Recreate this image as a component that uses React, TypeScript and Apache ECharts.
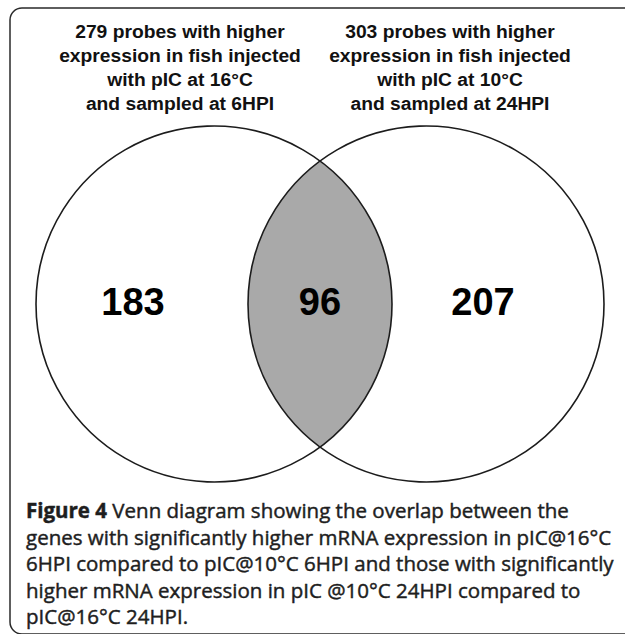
import React, { useEffect, useRef } from "react";
import * as echarts from "echarts";

// ---- data ----
const setTitlesA = ["279 probes with higher", "expression in fish injected", "with pIC at 16°C", "and sampled at 6HPI"];
const setTitlesB = ["303 probes with higher", "expression in fish injected", "with pIC at 10°C", "and sampled at 24HPI"];
const regionNames = ["pIC@16°C 6HPI only", "both", "pIC@10°C 24HPI only"];
const regionCounts = [183, 96, 207];
const captionLead = "Figure 4";
const captionLines = [
  " Venn diagram showing the overlap between the",
  "genes with significantly higher mRNA expression in pIC@16°C",
  "6HPI compared to pIC@10°C 6HPI and those with significantly",
  "higher mRNA expression in pIC @10°C 24HPI compared to",
  "pIC@16°C 24HPI.",
];

// ---- layout (pixels) ----
const W = 625;
const H = 634;
const circleCenters = [
  [214, 304],
  [426, 304],
];
const circleRadius = 178;
const countAnchors = [
  [133, 302],
  [320, 302],
  [483, 302],
];
const titleCentersX = [180, 450];
const titleLineY = [32, 56, 80, 104];
const captionX = 26;
const captionY = [510, 536.5, 563, 589.5, 616];

const LABEL_FONT = "'Liberation Sans', Arial, Helvetica, sans-serif";
const CAPTION_FONT = "'Open Sans', 'Noto Sans', sans-serif";

export default function App() {
  const ref = useRef<HTMLDivElement>(null);

  useEffect(() => {
    if (!ref.current) return;
    const chart = echarts.init(ref.current, null, { renderer: "svg" });

    const renderItem = (params: any, api: any) => {
      const c1 = api.coord(circleCenters[0]);
      const c2 = api.coord(circleCenters[1]);
      const r = api.size([circleRadius, 0])[0];
      const dx = c2[0] - c1[0];
      const dy = c2[1] - c1[1];
      const d = Math.sqrt(dx * dx + dy * dy);
      const a = d / 2;
      const h = Math.sqrt(Math.max(r * r - a * a, 0));
      const mx = (c1[0] + c2[0]) / 2;
      const my = (c1[1] + c2[1]) / 2;
      const p1 = [mx, my - h];
      const p2 = [mx, my + h];
      const pathData =
        `M ${p1[0]} ${p1[1]} A ${r} ${r} 0 0 1 ${p2[0]} ${p2[1]} ` +
        `A ${r} ${r} 0 0 1 ${p1[0]} ${p1[1]} Z`;

      const children: any[] = [
        {
          type: "path",
          shape: { pathData },
          style: { fill: "#a9a9a9", stroke: "none" },
        },
        {
          type: "circle",
          shape: { cx: c1[0], cy: c1[1], r },
          style: { fill: "none", stroke: "#1c1c1c", lineWidth: 1.6 },
        },
        {
          type: "circle",
          shape: { cx: c2[0], cy: c2[1], r },
          style: { fill: "none", stroke: "#1c1c1c", lineWidth: 1.6 },
        },
      ];
      regionCounts.forEach((v, i) => {
        const p = api.coord(countAnchors[i]);
        children.push({
          type: "text",
          x: p[0],
          y: p[1],
          style: {
            text: String(v),
            fontSize: 38,
            fontWeight: "bold",
            fontFamily: LABEL_FONT,
            fill: "#000",
            align: "center",
            verticalAlign: "middle",
          },
        });
      });
      return { type: "group", children };
    };

    const graphics: any[] = [
      {
        type: "rect",
        z: -10,
        shape: { x: 10, y: 8, width: 700, height: 626, r: 12 },
        style: { fill: "#ffffff", stroke: "#2a2a2a", lineWidth: 1.5 },
      },
    ];
    [setTitlesA, setTitlesB].forEach((lines, k) => {
      lines.forEach((t, i) => {
        graphics.push({
          type: "text",
          x: titleCentersX[k],
          y: titleLineY[i],
          scaleX: 1.07,
          style: {
            text: t,
            fontSize: 18,
            fontWeight: "bold",
            fontFamily: LABEL_FONT,
            fill: "#111",
            align: "center",
            verticalAlign: "middle",
          },
        });
      });
    });
    captionLines.forEach((t, i) => {
      graphics.push({
        type: "text",
        x: captionX,
        y: captionY[i],
        style: {
          text: i === 0 ? `{b|${captionLead}}${t}` : t,
          fontSize: 20.5,
          fontFamily: CAPTION_FONT,
          fill: "#1e1e1e",
          stroke: "#1e1e1e",
          lineWidth: 0.45,
          align: "left",
          verticalAlign: "middle",
          rich: {
            b: {
              fontSize: 20.5,
              fontWeight: "bold",
              fontFamily: CAPTION_FONT,
              fill: "#1e1e1e",
              stroke: "#1e1e1e",
              lineWidth: 0.45,
            },
          },
        },
      });
    });

    chart.setOption({
      animation: false,
      backgroundColor: "#ffffff",
      grid: { left: 0, right: 0, top: 0, bottom: 0 },
      xAxis: { type: "value", min: 0, max: W, show: false },
      yAxis: { type: "value", min: 0, max: H, inverse: true, show: false },
      graphic: graphics,
      series: [
        {
          type: "custom",
          name: regionNames.join(" / "),
          renderItem,
          data: [[0, 0]],
          silent: true,
          clip: false,
        },
      ],
    });

    return () => chart.dispose();
  }, []);

  return (
    <div
      ref={ref}
      style={{ position: "fixed", left: 0, top: 0, width: W, height: H }}
    />
  );
}
